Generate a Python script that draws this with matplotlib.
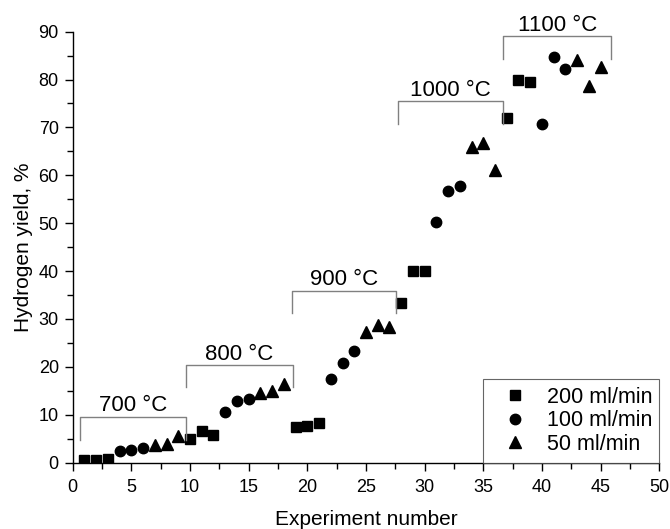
import matplotlib
matplotlib.use("Agg")
import matplotlib.pyplot as plt
from matplotlib.ticker import MultipleLocator

plt.rcParams['font.family'] = ['Liberation Sans', 'DejaVu Sans']

# Data
x200 = [1, 2, 3, 10, 11, 12, 19, 20, 21, 28, 29, 30, 37, 38, 39]
y200 = [0.5, 0.6, 0.8, 5.0, 6.5, 5.8, 7.5, 7.6, 8.2, 33.3, 40.0, 40.0, 72.0, 80.0, 79.5]
x100 = [4, 5, 6, 13, 14, 15, 22, 23, 24, 31, 32, 33, 40, 41, 42]
y100 = [2.5, 2.7, 3.1, 10.5, 12.8, 13.2, 17.4, 20.8, 23.2, 50.2, 56.7, 57.7, 70.7, 84.7, 82.3]
x50 = [7, 8, 9, 16, 17, 18, 25, 26, 27, 34, 35, 36, 43, 44, 45]
y50 = [3.6, 3.8, 5.5, 14.5, 15.0, 16.5, 27.3, 28.8, 28.3, 66.0, 66.7, 61.2, 84.0, 78.7, 82.7]

temp_labels = ["700 °C", "800 °C", "900 °C", "1000 °C", "1100 °C"]
bracket_x0 = [0.6, 9.7, 18.7, 27.7, 36.7]
bracket_x1 = [9.65, 18.75, 27.6, 36.7, 45.9]
bracket_top = [9.6, 20.4, 35.9, 75.5, 89.0]
bracket_bottom = [4.8, 15.7, 31.2, 70.7, 84.3]

fig = plt.figure(figsize=(6.7, 5.29), dpi=100)
ax = fig.add_axes([0.1085, 0.1257, 0.8755, 0.8144])

ax.plot(x200, y200, 's', color='black', markersize=6.5, linestyle='none', label='200 ml/min')
ax.plot(x100, y100, 'o', color='black', markersize=7.5, linestyle='none', label='100 ml/min')
ax.plot(x50, y50, '^', color='black', markersize=8, linestyle='none', label='50 ml/min')

for lab, a, b, t, bt in zip(temp_labels, bracket_x0, bracket_x1, bracket_top, bracket_bottom):
    ax.plot([a, a, b, b], [bt, t, t, bt], color='#808080', linewidth=1.0, clip_on=False)
    ax.text((a + b) / 2, t + 1.1, lab, ha='center', va='baseline', fontsize=16, color='black')

ax.set_xlim(0, 50)
ax.set_ylim(0, 90)
ax.xaxis.set_major_locator(MultipleLocator(5))
ax.xaxis.set_minor_locator(MultipleLocator(2.5))
ax.yaxis.set_major_locator(MultipleLocator(10))
ax.yaxis.set_minor_locator(MultipleLocator(5))
ax.tick_params(which='major', direction='out', length=6, width=1, labelsize=13, pad=4)
ax.tick_params(axis='x', which='major', pad=6)
ax.tick_params(which='minor', direction='out', length=4, width=1)
for s in ['top', 'right']:
    ax.spines[s].set_visible(False)
for s in ['left', 'bottom']:
    ax.spines[s].set_linewidth(1)

ax.set_xlabel('Experiment number', fontsize=15, labelpad=10)
ax.set_ylabel('Hydrogen yield, %', fontsize=15, labelpad=4)

leg = ax.legend(loc='lower left', bbox_to_anchor=(35, 0, 15, 17.7), bbox_transform=ax.transData,
                mode='expand', frameon=True, fancybox=False,
                edgecolor='#404040', fontsize=15.5, handletextpad=0.42, borderpad=0.35,
                labelspacing=0.12, handlelength=2.2, borderaxespad=0)
leg.get_frame().set_linewidth(0.8)

fig.savefig('out.png', dpi=100)
